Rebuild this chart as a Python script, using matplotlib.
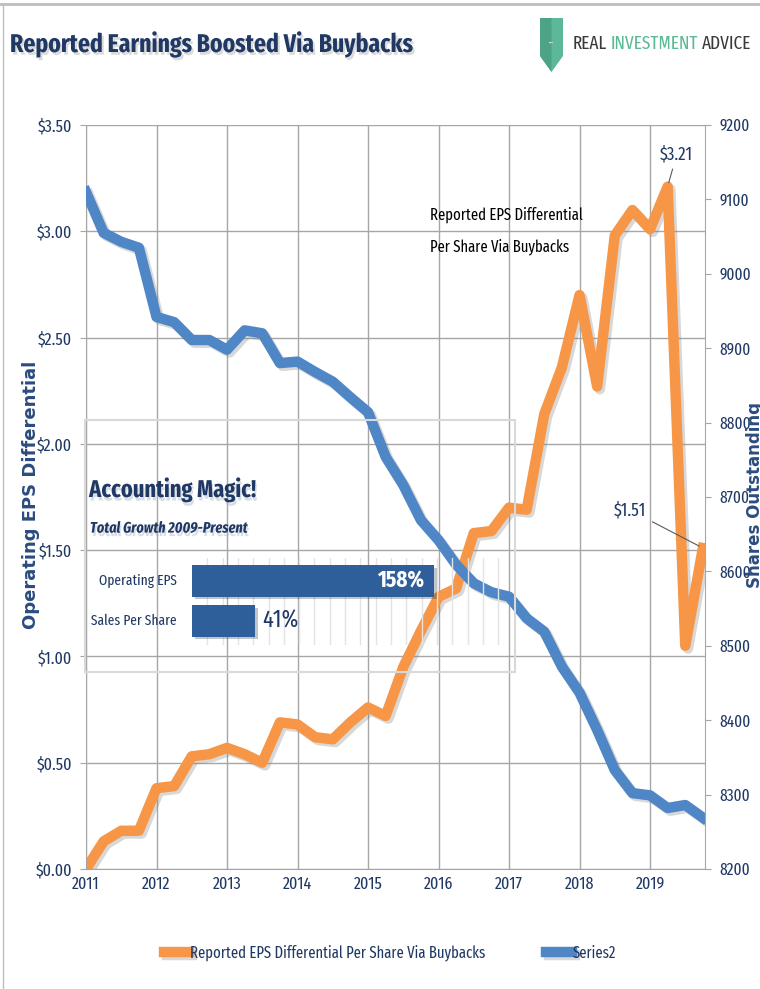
import numpy as np
import matplotlib
matplotlib.use('Agg')
import matplotlib.pyplot as plt
import matplotlib.patheffects as pe
from matplotlib.patches import Rectangle, Polygon
from matplotlib.text import Annotation

# quarterly data, 2011Q1 - 2019Q4
quarters = np.arange(2011, 2020, 0.25)
eps_diff = [0.00, 0.13, 0.18, 0.18, 0.38, 0.39, 0.53, 0.54, 0.57, 0.54, 0.50, 0.69,
            0.68, 0.62, 0.61, 0.69, 0.76, 0.72, 0.95, 1.12, 1.28, 1.32, 1.58, 1.59,
            1.70, 1.69, 2.14, 2.36, 2.70, 2.27, 2.98, 3.10, 3.01, 3.21, 1.05, 1.51]
shares = [9110, 9055, 9043, 9035, 8942, 8935, 8911, 8911, 8898, 8924, 8920, 8880,
          8882, 8868, 8855, 8834, 8814, 8754, 8716, 8669, 8642, 8609, 8584, 8572,
          8566, 8537, 8519, 8472, 8437, 8387, 8333, 8302, 8299, 8282, 8286, 8269]
years = list(range(2011, 2020))
eps_ticks = [0.0, 0.5, 1.0, 1.5, 2.0, 2.5, 3.0, 3.5]
share_ticks = list(range(8200, 9201, 100))
growth_labels = ['Operating EPS', 'Sales Per Share']
growth_values = [158, 41]

NAVY = '#1F3864'
ORANGE = '#F79646'
BLUE = '#4F86C6'
GRID = '#A6A6A6'
plt.rcParams['font.family'] = ['Fira Sans Extra Condensed', 'DejaVu Sans']

W, H = 760, 989
fig = plt.figure(figsize=(W / 100, H / 100), dpi=100)

def fx(px):
    return px / W

def fy(py):
    return 1 - py / H

ax1 = fig.add_axes([fx(86), fy(869), 619 / W, 744 / H])
ax2 = ax1.twinx()

shadow = [pe.SimpleLineShadow(offset=(2, -2), shadow_color='#7f7f7f', alpha=0.3), pe.Normal()]
l1, = ax1.plot(quarters, eps_diff, color=ORANGE, lw=7.5, solid_joinstyle='round',
               path_effects=shadow, label='Reported EPS Differential Per Share Via Buybacks')
l2, = ax2.plot(quarters, shares, color=BLUE, lw=7.5, solid_joinstyle='round',
               path_effects=shadow, label='Series2')

ax1.set_xlim(2011, 2019.78)
ax1.set_ylim(0, 3.5)
ax2.set_ylim(8200, 9200)
ax1.set_xticks(years)
ax1.set_xticklabels([str(y) for y in years])
ax1.set_yticks(eps_ticks)
ax1.set_yticklabels([f'${v:.2f}' for v in eps_ticks])
ax2.set_yticks(share_ticks)
ax1.grid(True, color=GRID, lw=1)
ax1.tick_params(axis='x', length=0, pad=5, labelsize=12.5, labelcolor=NAVY)
ax1.tick_params(axis='y', length=4, color=GRID, pad=6, labelsize=12.5, labelcolor=NAVY)
ax2.tick_params(axis='y', length=4, color=GRID, pad=6.5, labelsize=12, labelcolor=NAVY)
for ax in (ax1, ax2):
    for s in ax.spines.values():
        s.set_visible(False)
ax1.spines['left'].set_visible(True)
ax1.spines['left'].set_color(GRID)
ax1.spines['bottom'].set_visible(True)
ax1.spines['bottom'].set_color(GRID)
ax2.spines['right'].set_visible(True)
ax2.spines['right'].set_color(GRID)

fig.text(fx(31), fy(495), 'Operating EPS Differential', rotation=90, ha='center', va='center',
         family='DejaVu Sans', weight='bold', fontsize=13, color='#2B4C7E')
fig.text(fx(755), fy(495), 'Shares Outstanding', rotation=90, ha='center', va='center',
         family='DejaVu Sans', weight='bold', fontsize=12, color='#2B4C7E')

# annotations
ax1.annotate(f'${eps_diff[33]:.2f}', xy=(quarters[33], eps_diff[33]), xytext=(9, 32),
             textcoords='offset pixels', ha='center', va='center', color=NAVY, fontsize=13,
             arrowprops=dict(arrowstyle='-', color='#595959', lw=0.8, shrinkA=2, shrinkB=3))
ax1.annotate(f'${eps_diff[35]:.2f}', xy=(quarters[35], eps_diff[35]), xytext=(-57, 38),
             textcoords='offset pixels', ha='right', va='center', color=NAVY, fontsize=13,
             arrowprops=dict(arrowstyle='-', color='#595959', lw=0.8, shrinkA=3, shrinkB=3))
fig.text(fx(430), fy(231), 'Reported EPS Differential\nPer Share Via Buybacks', ha='left',
         va='center', fontsize=11.5, color='black', linespacing=2.2)

# inset box
fig.add_artist(Rectangle((fx(85), fy(672)), 430 / W, 252 / H, transform=fig.transFigure,
                         fill=False, ec='#D9D9D9', lw=1.5))
txt_shadow = [pe.SimplePatchShadow(offset=(1, -2.5), shadow_rgbFace='#a9b4c8', alpha=0.45), pe.Normal()]
fig.text(fx(89), fy(490), 'Accounting Magic!', ha='left', va='center', fontsize=17.5,
         weight='bold', color=NAVY, path_effects=txt_shadow)
fig.text(fx(90), fy(528), 'Total Growth 2009-Present', ha='left', va='center', fontsize=11,
         weight='bold', style='italic', color=NAVY, path_effects=txt_shadow)

axb = fig.add_axes([fx(192), fy(645), 320 / W, 87 / H])
axb.patch.set_alpha(0)
axb.barh([0, 1], growth_values, height=0.78, color='#2F5F9A', zorder=3,
         path_effects=[pe.SimplePatchShadow(offset=(2, -2), alpha=0.25), pe.Normal()])
axb.set_xlim(0, 209)
axb.set_ylim(1.6, -0.575)
axb.set_xticks(np.arange(10, 209, 10))
axb.grid(True, axis='x', color='#E3E3E3', lw=1)
axb.tick_params(length=0, labelbottom=False, labelleft=False)
for s in axb.spines.values():
    s.set_visible(False)
for i, lab in enumerate(growth_labels):
    axb.annotate(lab, xy=(0, i), xytext=(-15, 0), textcoords='offset pixels', ha='right',
                 va='center', fontsize=10.5, color=NAVY, annotation_clip=False)
axb.annotate(f'{growth_values[0]}%', xy=(growth_values[0], 0), xytext=(-10, 0),
             textcoords='offset pixels', ha='right', va='center', fontsize=16.5,
             weight='bold', color='white')
axb.annotate(f'{growth_values[1]}%', xy=(growth_values[1], 1), xytext=(7, 0),
             textcoords='offset pixels', ha='left', va='center', fontsize=17.5, color=NAVY)

# legend
fig.legend(handles=[l1, l2], loc='center', bbox_to_anchor=(fx(390), fy(953)), ncol=2,
           frameon=False, handlelength=1.6, handletextpad=0.05, columnspacing=3.8,
           fontsize=11.5, labelcolor=NAVY)

# title and logo
fig.text(fx(10), fy(45), 'Reported Earnings Boosted Via Buybacks', ha='left', va='center',
         fontsize=18.5, weight='bold', color=NAVY,
         path_effects=[pe.SimplePatchShadow(offset=(1.5, -2), shadow_rgbFace='#9a9a9a', alpha=0.35), pe.Normal()])
fig.add_artist(Polygon([(fx(540), fy(18)), (fx(563), fy(18)), (fx(563), fy(56)),
                        (fx(551.5), fy(72)), (fx(540), fy(56))], closed=True,
                       transform=fig.transFigure, fc='#5DB89B', ec='none'))
fig.add_artist(Polygon([(fx(540), fy(18)), (fx(551.5), fy(18)), (fx(551.5), fy(72)),
                        (fx(540), fy(56))], closed=True,
                       transform=fig.transFigure, fc='#4CA386', ec='none'))
fig.text(fx(551.5), fy(42), '•••', ha='center', va='center', fontsize=4, color='white')
t1 = fig.text(fx(573), fy(44), 'REAL', ha='left', va='center', fontsize=13.5, color='#3A3A3A')
t2 = fig.add_artist(Annotation('INVESTMENT', xy=(1, 0), xycoords=t1, xytext=(2.5, 0),
                               textcoords='offset points', va='bottom', fontsize=13.5, color='#5CB895'))
fig.add_artist(Annotation('ADVICE', xy=(1, 0), xycoords=t2, xytext=(2.5, 0),
                          textcoords='offset points', va='bottom', fontsize=13.5, color='#3A3A3A'))

# page border
fig.add_artist(plt.Line2D([0, 1], [fy(4), fy(4)], transform=fig.transFigure, color='#BDBDBD', lw=2))
fig.add_artist(plt.Line2D([fx(3), fx(3)], [0, fy(4)], transform=fig.transFigure, color='#BDBDBD', lw=1))

fig.savefig('out.png', dpi=100)
